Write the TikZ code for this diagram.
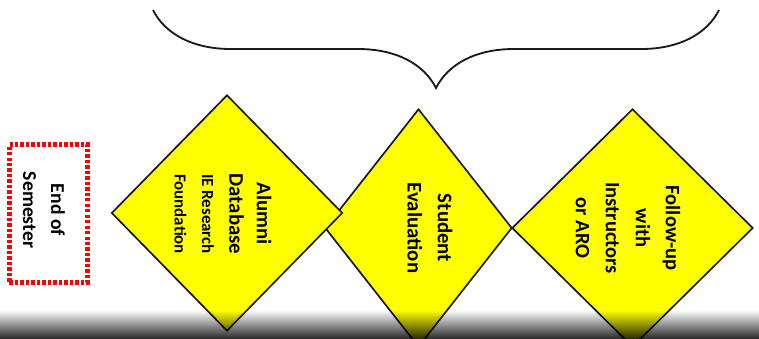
\documentclass[tikz,border=0pt]{standalone}
\usepackage{fontspec}
\setmainfont{Carlito}
\usetikzlibrary{shapes.geometric,decorations.pathreplacing,fadings}
\definecolor{gemfill}{HTML}{FFFF00}
\definecolor{gemline}{HTML}{1A1A1A}
\definecolor{markred}{HTML}{FF0000}
\tikzfading[name=fadeband, top color=transparent!100, bottom color=transparent!0]

\begin{document}
\begin{tikzpicture}[x=0.025cm,y=-0.025cm,font=\bfseries,
  gem/.style={diamond,draw=gemline,fill=gemfill,line width=1.2pt,inner sep=0pt},
  gemtext/.style={rotate=-90,align=center,text=black,inner sep=0pt}]
  \useasboundingbox (0,0) rectangle (759,339);
  \clip (0,0) rectangle (759,339);
  \fill[white] (0,0) rectangle (759,339);
  % end of term marker
  \node[draw=markred,line width=3.2pt,dash pattern=on 2.4pt off 1.5pt,
    minimum width=1.95cm,minimum height=3.45cm,inner sep=0pt] (term) at (48.5,213.5) {};
  \node[gemtext,font=\bfseries\fontsize{14}{20}\selectfont] (termtext) at (44,210)
    {End of\\Semester};
  % the three steps
  \node[gem,minimum width=4.675cm,minimum height=5.95cm] (evaluation) at (418.5,228) {};
  \node[gem,minimum width=6.025cm,minimum height=5.95cm] (followup) at (632.5,228) {};
  \node[gem,minimum width=5.775cm,minimum height=5.9cm] (alumni) at (227,213) {};
  \node[gemtext,font=\bfseries\fontsize{14.8}{19.5}\selectfont] (alumnitext) at (223,214)
    {Alumni\\Database\\{\fontsize{12}{19.5}\selectfont IE Research}\\{\fontsize{12}{19.5}\selectfont Foundation}};
  \node[gemtext,font=\bfseries\fontsize{14.8}{21.5}\selectfont] (evaltext) at (430,228)
    {Student\\Evaluation};
  \node[gemtext,font=\bfseries\fontsize{14.6}{21.3}\selectfont] (followtext) at (628,228)
    {Follow-up\\with\\Instructors\\or ARO};
  % brace over the steps
  \coordinate (braceL) at (153,10);
  \coordinate (braceR) at (719,10);
  \draw[gemline,line width=1.3pt,decorate,decoration={brace,mirror,amplitude=1.95cm}]
    (braceL) -- (braceR);
  % dark band at the bottom
  \fill[black,path fading=fadeband,fill opacity=0.85] (0,310) rectangle (759,339);
\end{tikzpicture}
\end{document}
